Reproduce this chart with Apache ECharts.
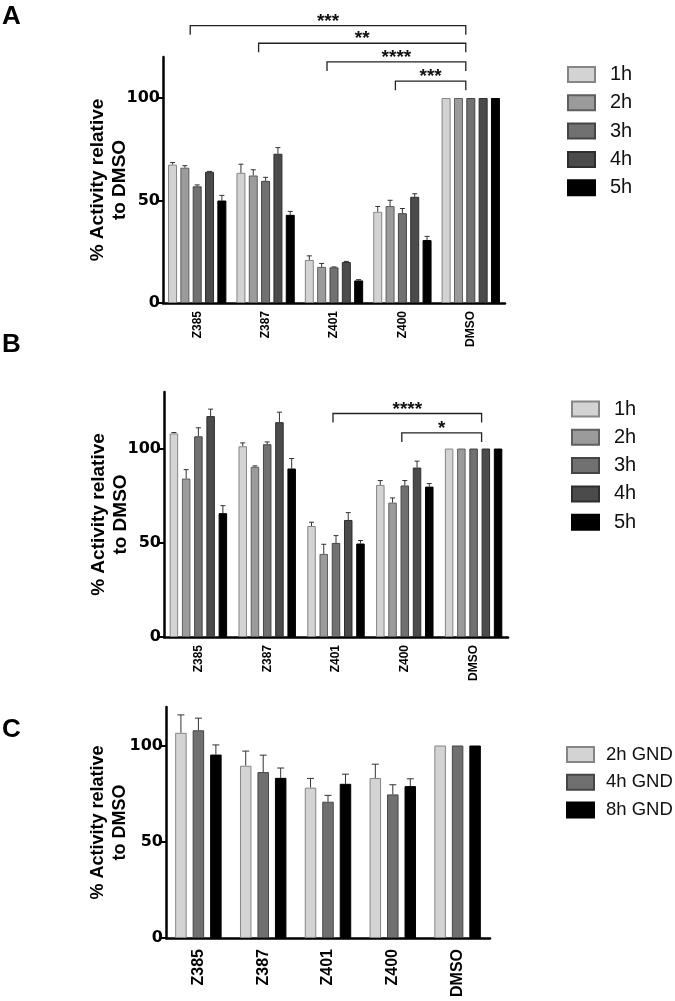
<!DOCTYPE html>
<html><head><meta charset="utf-8">
<script src="https://cdn.jsdelivr.net/npm/echarts@6/dist/echarts.min.js"></script>
<style>html,body{margin:0;padding:0;background:#fff}#c{width:675px;height:1001px}</style>
</head><body><div id="c"></div>
<script>
// ---------------- DATA ----------------
const categories = ['Z385', 'Z387', 'Z401', 'Z400', 'DMSO'];
const namesAB = ['1h', '2h', '3h', '4h', '5h'];
const namesC = ['2h GND', '4h GND', '8h GND'];
const yTickValues = [0, 50, 100];

// Panel A means and upper error (SEM)
const a1h = [67.5, 63.5, 21.0, 44.5, 100];
const a2h = [66.0, 62.2, 17.6, 47.3, 100];
const a3h = [56.9, 59.6, 17.4, 43.8, 100];
const a4h = [64.0, 72.8, 20.0, 51.8, 100];
const a5h = [50.0, 43.0, 11.0, 30.7, 100];
const a1hErr = [1.0, 4.2, 2.0, 2.6, 0];
const a2hErr = [1.0, 2.8, 1.7, 2.8, 0];
const a3hErr = [0.7, 1.7, 0.2, 2.3, 0];
const a4hErr = [0.2, 3.0, 0.3, 1.5, 0];
const a5hErr = [2.5, 1.7, 0.4, 1.8, 0];
// significance brackets: [fromCategoryIndex, toCategoryIndex, yValue]
const aBrackets = [[0, 4, 135.3], [1, 4, 126.7], [2, 4, 117.6], [3, 4, 108.2]];
const aBracketLabels = ['***', '**', '****', '***'];

// Panel B
const b1h = [108.0, 101.2, 58.9, 80.7, 100];
const b2h = [84.1, 90.3, 44.1, 71.3, 100];
const b3h = [106.5, 102.3, 49.9, 80.4, 100];
const b4h = [117.2, 114.0, 62.1, 89.9, 100];
const b5h = [65.7, 89.4, 49.6, 79.8, 100];
const b1hErr = [0.5, 1.8, 2.0, 2.3, 0];
const b2hErr = [4.7, 0.5, 5.1, 2.5, 0];
const b3hErr = [4.5, 1.2, 3.9, 2.6, 0];
const b4hErr = [3.7, 5.3, 3.9, 3.4, 0];
const b5hErr = [4.0, 5.3, 1.6, 1.6, 0];
const bBrackets = [[2, 4, 118.6], [3, 4, 108.3]];
const bBracketLabels = ['****', '*'];

// Panel C
const c2h = [106.6, 89.5, 78.1, 83.1, 100];
const c4h = [107.9, 86.2, 70.8, 74.6, 100];
const c8h = [95.3, 83.2, 80.1, 78.9, 100];
const c2hErr = [9.3, 7.6, 4.8, 7.2, 0];
const c4hErr = [6.3, 8.8, 3.3, 5.0, 0];
const c8hErr = [5.0, 5.1, 5.0, 3.8, 0];

// ---------------- STYLE ----------------
const FONT = '"Liberation Sans", Arial, Helvetica, sans-serif';
const fillAB = ['#d3d3d3', '#9b9b9b', '#717171', '#4b4b4b', '#000000'];
const borderAB = ['#858585', '#5f5f5f', '#454545', '#2e2e2e', '#000000'];
const fillC = ['#d3d3d3', '#707070', '#000000'];
const borderC = ['#858585', '#454545', '#000000'];

const panels = [
  { means: [a1h, a2h, a3h, a4h, a5h], errs: [a1hErr, a2hErr, a3hErr, a4hErr, a5hErr], names: namesAB,
    fill: fillAB, border: borderAB, max: 120, barW: 9, gap: 0.37, cap: 2.5,
    grid: { left: 163, top: 57, width: 342, height: 246 }, nameSize: 19, nameGap: 32,
    brackets: aBrackets, bLabels: aBracketLabels, offL: -7, offR: -5, labelSize: 12, labelMargin: 8 },
  { means: [b1h, b2h, b3h, b4h, b5h], errs: [b1hErr, b2hErr, b3hErr, b4hErr, b5hErr], names: namesAB,
    fill: fillAB, border: borderAB, max: 130, barW: 8.5, gap: 0.44, cap: 2.5,
    grid: { left: 164, top: 392, width: 344, height: 245 }, nameSize: 19, nameGap: 32,
    brackets: bBrackets, bLabels: bBracketLabels, offL: -3, offR: 8, labelSize: 12, labelMargin: 8 },
  { means: [c2h, c4h, c8h], errs: [c2hErr, c4hErr, c8hErr], names: namesC,
    fill: fillC, border: borderC, max: 120, barW: 11.5, gap: 0.52, cap: 3.5,
    grid: { left: 166, top: 707, width: 324, height: 231 }, nameSize: 18, nameGap: 35,
    brackets: [], bLabels: [], offL: 0, offR: 0, labelSize: 16, labelMargin: 11 }
];

const grids = [], xAxes = [], yAxes = [], series = [];
panels.forEach((p, g) => {
  grids.push(Object.assign({ containLabel: false }, p.grid));
  xAxes.push({
    type: 'category', gridIndex: g, data: categories,
    axisLine: { lineStyle: { color: '#000', width: 2.5 } },
    axisTick: { alignWithLabel: true, length: 6, interval: 0, lineStyle: { color: '#000', width: 2 } },
    axisLabel: { rotate: 90, interval: 0, margin: p.labelMargin, fontSize: p.labelSize, fontWeight: 'bold', color: '#000', fontFamily: FONT }
  });
  yAxes.push({
    type: 'value', gridIndex: g, min: 0, max: p.max, interval: 50,
    splitLine: { show: false },
    axisLine: { show: true, lineStyle: { color: '#000', width: 2.5 } },
    axisTick: { show: true, length: 6, customValues: yTickValues, lineStyle: { color: '#000', width: 2 } },
    axisLabel: { customValues: yTickValues, margin: 3, fontSize: 16, fontWeight: 'bold', color: '#000', fontFamily: '"DejaVu Sans", sans-serif' },
    name: '% Activity relative\nto DMSO', nameLocation: 'middle', nameGap: p.nameGap, nameMoveOverlap: false,
    nameTextStyle: { fontSize: p.nameSize, fontWeight: 'bold', color: '#000', fontFamily: FONT, lineHeight: 22, align: 'center' }
  });
  const n = p.means.length;
  const step = p.barW * (1 + p.gap);
  p.means.forEach((m, s) => {
    series.push({
      type: 'bar', name: p.names[s], xAxisIndex: g, yAxisIndex: g, data: m,
      barWidth: p.barW, barGap: (p.gap * 100) + '%', z: 3,
      itemStyle: { color: p.fill[s], borderColor: p.border[s], borderWidth: 1 }
    });
    const off = (s - (n - 1) / 2) * step;
    const errData = categories.map((c, i) => [i, m[i], m[i] + p.errs[s][i]]);
    series.push({
      type: 'custom', xAxisIndex: g, yAxisIndex: g, silent: true, z: 2, clip: false,
      encode: { x: 0, y: [1, 2] },
      data: errData,
      renderItem: (params, api) => {
        const i = api.value(0), lo = api.value(1), hi = api.value(2);
        if (!(hi > lo)) return null;
        const b = api.coord([i, lo]), t = api.coord([i, hi]);
        const x = b[0] + off;
        const st = { stroke: '#333', lineWidth: 1 };
        return { type: 'group', children: [
          { type: 'line', shape: { x1: x, y1: b[1], x2: x, y2: t[1] }, style: st },
          { type: 'line', shape: { x1: x - p.cap, y1: t[1], x2: x + p.cap, y2: t[1] }, style: st }
        ] };
      }
    });
  });
  if (p.brackets.length) {
    series.push({
      type: 'custom', xAxisIndex: g, yAxisIndex: g, silent: true, z: 5, clip: false,
      encode: { x: [0, 1], y: 2 },
      data: p.brackets,
      renderItem: (params, api) => {
        const y = api.value(2);
        const p1 = api.coord([api.value(0), y]), p2 = api.coord([api.value(1), y]);
        const x1 = p1[0] + p.offL, x2 = p2[0] + p.offR, yy = p1[1];
        return { type: 'group', children: [
          { type: 'polyline', shape: { points: [[x1, yy + 9], [x1, yy], [x2, yy], [x2, yy + 9]] },
            style: { stroke: '#222', lineWidth: 1.3, fill: null } },
          { type: 'text', style: { text: p.bLabels[params.dataIndex], x: (x1 + x2) / 2, y: yy - 4,
            align: 'center', verticalAlign: 'middle', fontSize: 19, fontWeight: 'bold', fontFamily: FONT, fill: '#111' } }
        ] };
      }
    });
  }
});

const legendBase = {
  orient: 'vertical', icon: 'rect', itemWidth: 27, itemHeight: 15, selectedMode: false, padding: 0,
  textStyle: { fontSize: 20, fontFamily: FONT, color: '#111', lineHeight: 20, padding: [0, 0, 0, 10] }
};

const titleStyle = { fontSize: 26, fontWeight: 'bold', color: '#000', fontFamily: FONT };
const option = {
  backgroundColor: '#fff',
  animation: false,
  title: [
    { text: 'A', left: 2, top: 4, padding: 0, textStyle: titleStyle },
    { text: 'B', left: 2, top: 332, padding: 0, textStyle: titleStyle },
    { text: 'C', left: 2, top: 717, padding: 0, textStyle: titleStyle }
  ],
  legend: [
    Object.assign({}, legendBase, { data: namesAB, left: 567, top: 64.5, itemGap: 8.3 }),
    Object.assign({}, legendBase, { data: namesAB, left: 571, top: 399, itemGap: 8.3 }),
    Object.assign({}, legendBase, { data: namesC, left: 566, top: 744.5, itemGap: 7.7,
      textStyle: Object.assign({}, legendBase.textStyle, { fontSize: 18.5, padding: [0, 0, 0, 7] }) })
  ],
  grid: grids, xAxis: xAxes, yAxis: yAxes, series: series
};
const chart = echarts.init(document.getElementById('c'), null, { renderer: 'canvas' });
chart.setOption(option);
</script></body></html>
